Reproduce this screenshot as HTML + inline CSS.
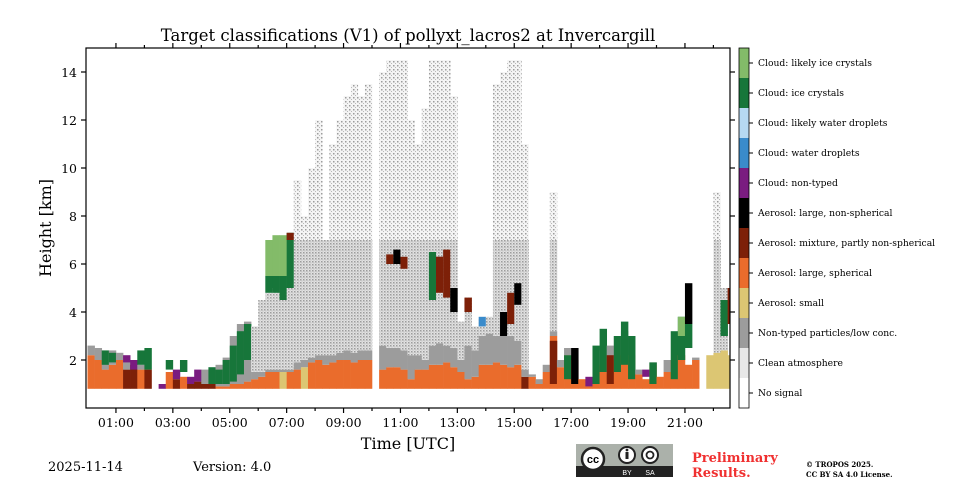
<!DOCTYPE html>
<html><head><meta charset="utf-8"><style>
body{margin:0;background:#fff;width:960px;height:480px;overflow:hidden}
svg{display:block}
text{font-family:"DejaVu Serif","Liberation Serif",serif}
</style></head><body>
<svg id="chart" width="960" height="480" viewBox="0 0 960 480" xmlns="http://www.w3.org/2000/svg">
<defs>
<pattern id="speckDense" width="3" height="3" patternUnits="userSpaceOnUse"><rect width="3" height="3" fill="#e2e2e2"/><rect x="0" y="0" width="1.5" height="1.5" fill="#9c9c9c"/><rect x="1.5" y="1.5" width="1" height="1" fill="#b4b4b4"/></pattern>
<pattern id="speckSparse" width="4" height="4" patternUnits="userSpaceOnUse"><rect width="4" height="4" fill="#f4f4f4"/><rect x="1" y="1" width="1.5" height="1.5" fill="#9c9c9c"/><rect x="3" y="3" width="1" height="1" fill="#b8b8b8"/></pattern>
</defs>
<text x="408" y="41" font-size="16.5" text-anchor="middle">Target classifications (V1) of pollyxt_lacros2 at Invercargill</text>
<g id="plot"></g>
<g id="axes"></g>
<text transform="translate(51,228) rotate(-90)" font-size="16" text-anchor="middle">Height [km]</text>
<text x="408" y="449" font-size="16" text-anchor="middle">Time [UTC]</text>
<g id="cbar"></g>
<text x="48" y="471" font-size="13">2025-11-14</text>
<text x="193" y="471" font-size="13">Version: 4.0</text>
<g>
<rect x="576" y="444" width="97" height="33" fill="#abb1aa"/>
<rect x="576" y="466" width="97" height="11" fill="#222"/>
<circle cx="593" cy="459" r="11" fill="#fff" stroke="#222" stroke-width="2.5"/>
<text x="593" y="463" font-size="11" font-weight="bold" text-anchor="middle" style="font-family:'Liberation Sans',sans-serif">cc</text>
<circle cx="627" cy="455" r="8" fill="#fff" stroke="#222" stroke-width="2"/>
<rect x="625.5" y="452" width="3" height="7" fill="#222"/><circle cx="627" cy="450" r="1.4" fill="#222"/>
<circle cx="650" cy="455" r="8" fill="#fff" stroke="#222" stroke-width="2"/>
<circle cx="650" cy="455" r="3.5" fill="none" stroke="#222" stroke-width="1.8"/>
<text x="627" y="475" font-size="7" fill="#fff" text-anchor="middle" style="font-family:'Liberation Sans',sans-serif">BY</text>
<text x="650" y="475" font-size="7" fill="#fff" text-anchor="middle" style="font-family:'Liberation Sans',sans-serif">SA</text>
</g>
<text x="692" y="462" font-size="13" font-weight="bold" fill="#f03030">Preliminary</text>
<text x="692" y="477" font-size="13" font-weight="bold" fill="#f03030">Results.</text>
<text x="806" y="467" font-size="7" font-weight="bold">© TROPOS 2025.</text>
<text x="806" y="477" font-size="7" font-weight="bold">CC BY SA 4.0 License.</text>
</svg>
<script>
// class labels and colors
const classLabels=["Cloud: likely ice crystals","Cloud: ice crystals","Cloud: likely water droplets","Cloud: water droplets","Cloud: non-typed","Aerosol: large, non-spherical","Aerosol: mixture, partly non-spherical","Aerosol: large, spherical","Aerosol: small","Non-typed particles/low conc.","Clean atmosphere","No signal"];
const classColors=["#83bb69","#17763a","#b6d9f2","#3a8bcb","#7a1c80","#000000","#7d2008","#ea6c2c","#dcc673","#9c9c9c","#e8e8e8","#ffffff"];
// time columns (hours UTC), step 0.25 h
const times=[];for(let i=0;i<=90;i++)times.push(i*0.25);
const aerTop=[2.2,2.0,1.6,1.8,2.0,1.6,1.8,1.6,1.6,0,0,1.5,1.2,1.3,1.0,1.1,1.0,1.0,0.9,0.9,1.0,1.0,1.1,1.2,1.3,1.5,1.5,1.5,1.5,1.6,1.7,1.9,2.0,1.8,1.9,2.0,2.0,1.9,2.0,2.0,0,1.6,1.7,1.7,1.6,1.2,1.6,1.6,1.8,1.8,1.9,1.7,1.5,1.2,1.3,1.8,1.8,1.9,1.8,1.7,1.8,1.3,1.3,1.0,1.5,3.0,1.7,2.2,2.0,1.2,1.0,1.5,1.8,1.4,2.0,2.2,2.2,1.4,1.2,1.8,1.3,1.5,2.0,2.2,1.8,2.0,0,2.2,2.3,2.4,2.2];
const aerClass=[7,7,7,7,7,6,6,7,6,7,7,7,6,7,6,6,6,6,7,7,7,7,7,7,7,7,7,8,7,7,8,7,7,7,7,7,7,7,7,7,7,7,7,7,7,7,7,7,7,7,7,7,7,7,7,7,7,7,7,7,7,6,7,7,7,7,7,7,7,7,7,7,7,7,7,7,7,7,7,7,7,7,7,7,7,7,7,8,8,8,8];
const grayTop=[2.6,2.5,2.3,2.4,2.3,2.0,1.9,1.8,1.6,0,0,1.5,1.2,1.3,1.0,1.1,1.6,1.4,1.8,2.1,3.0,3.5,3.6,1.5,1.5,1.6,1.6,1.6,1.6,1.9,2.0,2.1,2.2,2.2,2.2,2.3,2.4,2.3,2.4,2.4,0,2.6,2.5,2.5,2.4,2.2,2.2,2.0,2.6,2.7,2.6,2.5,2.0,2.6,2.4,3.0,3.1,3.0,3.0,3.0,2.8,1.6,1.4,1.2,1.8,3.2,2.0,2.5,2.0,1.2,1.0,1.5,2.4,2.6,3.0,3.2,2.0,1.6,1.2,1.9,1.3,2.0,2.0,2.2,1.8,2.1,0,2.2,2.3,2.4,2.2];
const speckTop=[0,0,0,0,0,0,0,0,0,0,0,0,0,0,0,0,0,0,0,0,0,0,0,3.4,4.5,4.8,5.0,5.0,5.0,9.5,8,10,12,7,11,12,13,13.5,13,13.5,0,14,14.5,14.5,14.5,12,11,12.5,14.5,14.5,14.5,13,3.6,4.6,3.4,3.7,3.8,13.5,14,14.5,14.5,11,0,0,0,9,0,0,0,0,0,0,0,0,0,0,0,0,0,0,0,0,0,0,0,0,0,0,9,5,0];
const cloudBase=[0,0,1.8,1.9,0,1.9,1.6,1.8,1.6,0,0.8,1.6,1.2,1.5,1.0,1.1,0,1.0,1.0,1.0,1.1,1.4,2.0,0,0,4.8,4.8,4.5,5.0,0,0,0,0,0,0,0,0,0,0,0,0,0,0,6.0,5.8,0,0,0,4.5,4.8,4.6,4.0,0,4.0,0,3.4,0,0,3.0,3.5,4.3,0,0,0,0,1.0,0,1.2,1.0,0,0.9,1.0,1.5,1.0,1.5,1.8,1.2,0,1.3,1.0,0,0,1.2,2.0,2.5,0,0,0,0,3.0,3.5];
const cloudTop=[0,0,2.4,2.3,0,2.2,2.0,2.4,2.5,0,1.0,2.0,1.6,2.0,1.3,1.6,0,1.7,1.6,2.0,2.6,3.2,3.5,0,0,5.5,5.5,5.5,7.3,0,0,0,0,0,0,0,0,0,0,0,0,0,0,6.6,6.3,0,0,0,6.5,6.3,6.6,5.0,0,4.6,0,3.8,0,0,4.0,4.8,5.2,0,0,0,0,2.8,0,2.2,2.5,0,1.3,2.6,3.3,2.2,3.0,3.6,3.0,0,1.6,1.9,0,0,3.2,3.8,3.5,0,0,0,0,4.5,5.0];
const cloudClass=[0,0,1,1,0,4,4,1,1,0,4,1,4,1,4,4,0,1,1,1,1,1,1,0,0,1,1,1,1,0,0,0,0,0,0,0,0,0,0,0,0,0,0,5,6,0,0,0,1,6,6,5,0,6,0,3,0,0,5,6,5,0,0,0,0,6,0,1,5,0,4,1,1,6,1,1,1,0,4,1,0,0,1,1,1,0,0,0,0,1,6];
const cloud2Base=[0,0,0,0,0,0,0,0,0,0,0,0,0,0,0,0,0,0,0,0,0,0,0,0,0,5.5,5.5,5.5,7.0,0,0,0,0,0,0,0,0,0,0,0,0,0,6.0,0,0,0,0,0,0,5.5,0,0,0,0,0,0,0,0,0,0,0,0,0,0,0,0,0,0,0,0,0,0,0,0,0,0,0,0,0,0,0,0,0,3.0,3.5,0,0,0,0,0,0];
const cloud2Top=[0,0,0,0,0,0,0,0,0,0,0,0,0,0,0,0,0,0,0,0,0,0,0,0,0,7.0,7.2,7.2,7.3,0,0,0,0,0,0,0,0,0,0,0,0,0,6.4,0,0,0,0,0,0,6.3,0,0,0,0,0,0,0,0,0,0,0,0,0,0,0,0,0,0,0,0,0,0,0,0,0,0,0,0,0,0,0,0,0,3.8,5.2,0,0,0,0,0,0];
const cloud2Class=[0,0,0,0,0,0,0,0,0,0,0,0,0,0,0,0,0,0,0,0,0,0,0,0,0,0,0,0,6,0,0,0,0,0,0,0,0,0,0,0,0,0,6,0,0,0,0,0,0,6,0,0,0,0,0,0,0,0,0,0,0,0,0,0,0,0,0,0,0,0,0,0,0,0,0,0,0,0,0,0,0,0,0,0,5,0,0,0,0,0,0];
const yTicks=[2,4,6,8,10,12,14];
const xTickLabels=["01:00","03:00","05:00","07:00","09:00","11:00","13:00","15:00","17:00","19:00","21:00"];
const xLabelHours=[1,3,5,7,9,11,13,15,17,19,21];

const NS="http://www.w3.org/2000/svg";
const X0=86,X1=730,Y0=48,Y1=408;
const xScale=h=>87.5+h*28.45;
const yScale=k=>408-k*24;
const BASE=0.8,STEP=0.25;
function mk(tag,attrs,parent){const e=document.createElementNS(NS,tag);for(const k in attrs)e.setAttribute(k,attrs[k]);parent.appendChild(e);return e;}
const plot=document.getElementById('plot');
function band(i,lo,hi,fill,name){
  if(!(hi>lo))return;
  const x=xScale(times[i]);const w=Math.min(xScale(times[i]+STEP),X1)-x;
  const r=mk('rect',{x:x,y:yScale(hi),width:w+0.3,height:yScale(lo)-yScale(hi),fill:fill},plot);
  
  
}
for(let i=0;i<times.length;i++){
  if(aerTop[i]>0){band(i,BASE,aerTop[i],classColors[aerClass[i]],'aerosol-layer');}
  band(i,Math.max(aerTop[i],BASE),grayTop[i],classColors[9],'non-typed-layer');
  const s0=Math.max(grayTop[i],BASE);
  band(i,s0,Math.min(speckTop[i],7),'url(#speckDense)','low-signal-region');
  band(i,Math.max(s0,7),speckTop[i],'url(#speckSparse)','sparse-signal-region');
  if(cloudTop[i]>0)band(i,cloudBase[i],cloudTop[i],classColors[cloudClass[i]],'cloud-layer');
  if(cloud2Top[i]>0)band(i,cloud2Base[i],cloud2Top[i],classColors[cloud2Class[i]],'cloud-layer-upper');
}
const ax=document.getElementById('axes');
let fr=mk('rect',{x:X0,y:Y0,width:X1-X0,height:Y1-Y0,fill:'none',stroke:'#000','stroke-width':1.2},ax);


for(let h=1;h<=22;h++){
  const x=xScale(h);
  mk('line',{x1:x,x2:x,y1:Y1,y2:Y1+(h%2?5:3),stroke:'#000','stroke-width':1.2},ax);
  mk('line',{x1:x,x2:x,y1:Y0,y2:Y0-(h%2?5:3),stroke:'#000','stroke-width':1.2},ax);
}
xLabelHours.forEach((h,j)=>{
  const t=mk('text',{x:xScale(h),y:Y1+19,'font-size':12.5,'text-anchor':'middle'},ax);t.textContent=xTickLabels[j];
  
  
});
yTicks.forEach(v=>{
  const y=yScale(v);
  mk('line',{x1:X0-5,x2:X0,y1:y,y2:y,stroke:'#000','stroke-width':1.2},ax);
  mk('line',{x1:X1,x2:X1+5,y1:y,y2:y,stroke:'#000','stroke-width':1.2},ax);
  const t=mk('text',{x:X0-9,y:y+5,'font-size':12.5,'text-anchor':'end'},ax);t.textContent=v;
  
  
});
const cb=document.getElementById('cbar');
classLabels.forEach((lab,i)=>{
  const y=48+i*30;
  const r=mk('rect',{x:739,y:y,width:10,height:30,fill:classColors[i]},cb);
  
  
  mk('line',{x1:749,x2:753,y1:y+15,y2:y+15,stroke:'#000','stroke-width':1},cb);
  const t=mk('text',{x:758,y:y+18,'font-size':9.2},cb);t.textContent=lab;
  
  
});
mk('rect',{x:739,y:48,width:10,height:360,fill:'none',stroke:'#000','stroke-width':0.8},cb);
</script>
</body></html>
